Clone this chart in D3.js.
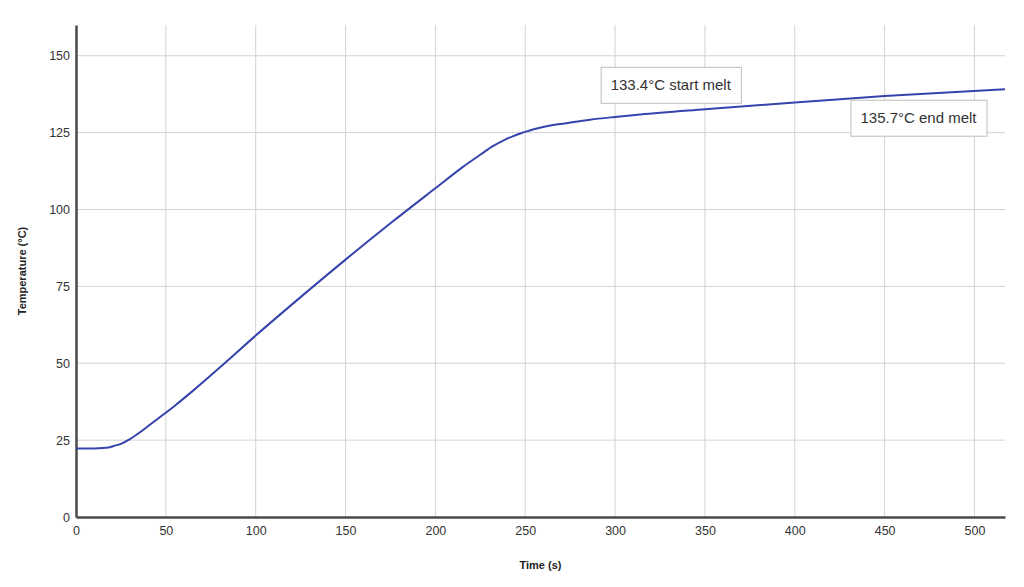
<!DOCTYPE html>
<html>
<head>
<meta charset="utf-8">
<script src="https://cdn.jsdelivr.net/npm/d3@7"></script>
<style>
  html, body { margin: 0; padding: 0; background: #fff; }
  svg { display: block; font-family: "Liberation Sans", Arial, Helvetica, sans-serif; }
</style>
</head>
<body>
<svg id="chart" width="1024" height="587"></svg>
<script>
// ---- data ----
const timeSeconds = [0, 5, 10, 15, 18, 21, 25, 30, 35, 40, 47, 55, 66, 80, 100, 125, 150, 175, 200, 215, 225, 232, 238, 243, 248, 252, 257, 264, 272, 286, 300, 314, 350, 400, 450, 517];
const temperatureC = [22.3, 22.3, 22.3, 22.4, 22.6, 23.1, 23.8, 25.3, 27.3, 29.5, 32.6, 36.2, 41.5, 48.6, 59.0, 71.5, 83.7, 95.5, 106.9, 113.7, 117.8, 120.6, 122.5, 123.8, 124.9, 125.6, 126.4, 127.3, 128.0, 129.2, 130.1, 130.9, 132.6, 134.8, 136.9, 139.1];
const xTicks = [0, 50, 100, 150, 200, 250, 300, 350, 400, 450, 500];
const yTicks = [0, 25, 50, 75, 100, 125, 150];
const annotationTimes = [370, 431];
const annotationTemps = [133.4, 135.7];
const annotationLabels = ["133.4°C start melt", "135.7°C end melt"];

// ---- layout ----
const svg = d3.select("#chart");
const plotLeft = 76, plotRight = 1005, plotTop = 25, plotBottom = 517;
const x = d3.scaleLinear().domain([0, 517]).range([plotLeft, plotRight]);
const y = d3.scaleLinear().domain([0, 160]).range([plotBottom, plotTop]);

// grid
const grid = svg.append("g");
grid.selectAll("line.v").data(xTicks.filter(d => d > 0)).enter().append("line")
  .attr("x1", d => x(d)).attr("x2", d => x(d))
  .attr("y1", plotTop).attr("y2", plotBottom)
  .attr("stroke", "#d3d3d3").attr("stroke-width", 1);
grid.selectAll("line.h").data(yTicks.filter(d => d > 0)).enter().append("line")
  .attr("x1", plotLeft).attr("x2", plotRight)
  .attr("y1", d => y(d)).attr("y2", d => y(d))
  .attr("stroke", "#d3d3d3").attr("stroke-width", 1);

// axes
const xAxis = d3.axisBottom(x).tickValues(xTicks).tickSize(0).tickPadding(9);
const yAxis = d3.axisLeft(y).tickValues(yTicks).tickSize(0).tickPadding(6);
const gx = svg.append("g").attr("transform", `translate(0,${plotBottom})`).call(xAxis);
const gy = svg.append("g").attr("transform", `translate(${plotLeft},0)`).call(yAxis);
[gx, gy].forEach(g => {
  g.select(".domain").attr("stroke", "#4a4a4a").attr("stroke-width", 2.5);
  g.selectAll("text").attr("font-size", 12.5).attr("fill", "#333")
    .attr("font-family", "'Liberation Sans', Arial, sans-serif");
});

// line
const line = d3.line()
  .x((d, i) => x(timeSeconds[i]))
  .y(d => y(d))
  .curve(d3.curveMonotoneX);
svg.append("path").datum(temperatureC)
  .attr("d", line)
  .attr("fill", "none")
  .attr("stroke", "#3544ad")
  .attr("stroke-width", 2);

// annotations
const ann = svg.append("g");
annotationLabels.forEach((label, i) => {
  const px = x(annotationTimes[i]), py = y(annotationTemps[i]);
  const g = ann.append("g");
  const t = g.append("text").text(label)
    .attr("font-size", 15).attr("fill", "#333");
  const w = t.node().getComputedTextLength() + 20;
  const h = 36;
  let bx, by;
  if (i === 0) { bx = px - w; by = py - h - 4; }
  else { bx = px; by = py; }
  g.insert("rect", "text")
    .attr("x", bx + 0.5).attr("y", by + 0.5)
    .attr("width", w).attr("height", h)
    .attr("fill", "#fff").attr("stroke", "#bdbdbd").attr("stroke-width", 1);
  t.attr("x", bx + 10).attr("y", by + h / 2 + 5.5);
});

// axis titles
svg.append("text").text("Time (s)")
  .attr("x", (plotLeft + plotRight) / 2).attr("y", 569)
  .attr("text-anchor", "middle").attr("font-size", 11).attr("font-weight", "bold").attr("fill", "#222");
svg.append("text").text("Temperature (°C)")
  .attr("transform", `translate(26,${(plotTop + plotBottom) / 2}) rotate(-90)`)
  .attr("text-anchor", "middle").attr("font-size", 11).attr("font-weight", "bold").attr("fill", "#222");
</script>
</body>
</html>
